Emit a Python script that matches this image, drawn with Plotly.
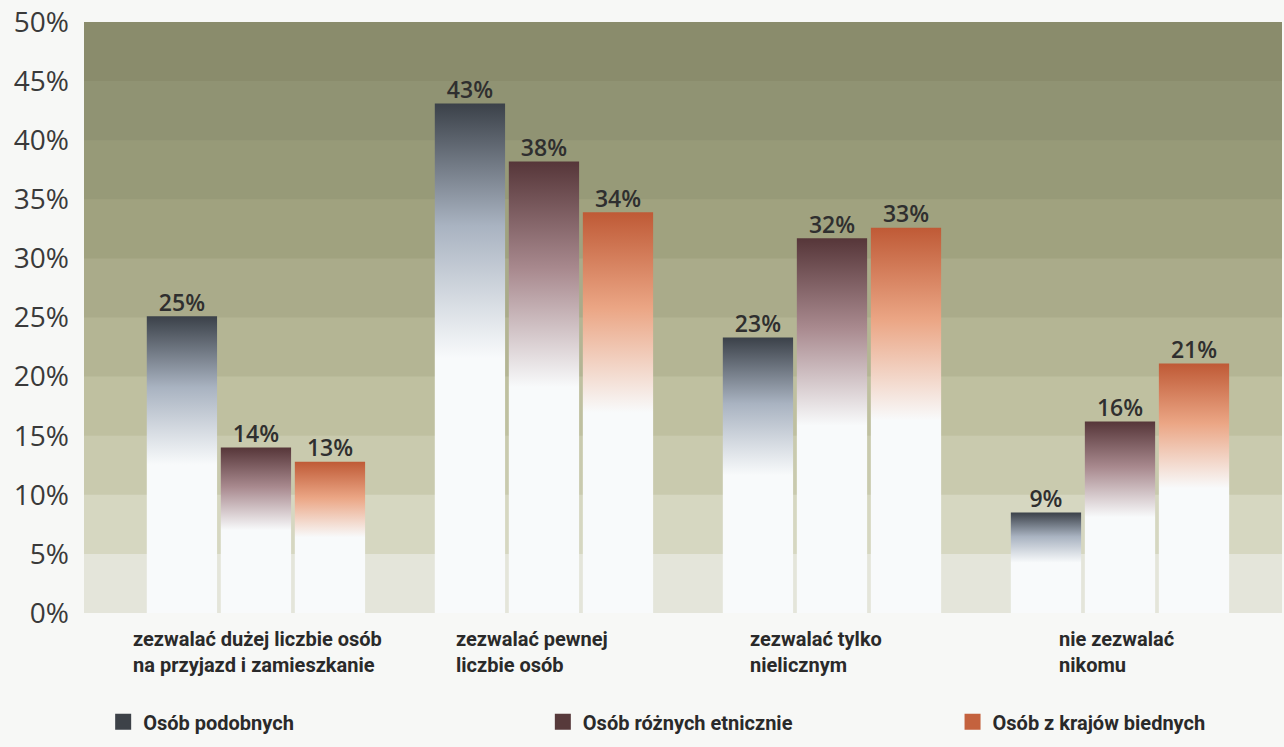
import plotly.graph_objects as go

categories = [
    "zezwalać dużej liczbie osób<br>na przyjazd i zamieszkanie",
    "zezwalać pewnej<br>liczbie osób",
    "zezwalać tylko<br>nielicznym",
    "nie zezwalać<br>nikomu",
]
series_names = ["Osób podobnych", "Osób różnych etnicznie", "Osób z krajów biednych"]
values_podobnych = [25.1, 43.1, 23.3, 8.5]
values_roznych = [14.0, 38.2, 31.7, 16.2]
values_biednych = [12.8, 33.9, 32.6, 21.1]
labels_podobnych = ["25%", "43%", "23%", "9%"]
labels_roznych = ["14%", "38%", "32%", "16%"]
labels_biednych = ["13%", "34%", "33%", "21%"]
y_ticks = [0, 5, 10, 15, 20, 25, 30, 35, 40, 45, 50]
y_tick_labels = [f"{t}%" for t in y_ticks]

all_values = [values_podobnych, values_roznych, values_biednych]
all_labels = [labels_podobnych, labels_roznych, labels_biednych]

# styles
top_colors = ["#3b4149", "#563639", "#bf5a36"]
mid_colors = ["#a9b3c1", "#a98a8f", "#eba685"]
legend_colors = ["#3d4248", "#573a3b", "#c4623e"]
white = "#f8fafb"
offsets = [-0.257, 0.0, 0.257]
half_w = 0.122
label_shift_px = [-125, -90, -84, -63]
band_colors = ["#e4e5da", "#d6d7c1", "#c9caae", "#bfc0a0", "#b4b594",
               "#aaab8a", "#a0a27f", "#979a78", "#909373", "#8a8c6c"]
narrow = "Liberation Sans Narrow, Roboto, sans-serif"

fig = go.Figure()

# background bands (each drawn to the top so no seams remain)
for k in range(len(y_ticks) - 1):
    fig.add_shape(type="rect", xref="paper", yref="y", x0=0, x1=1,
                  y0=y_ticks[k], y1=y_ticks[-1], layer="below",
                  line_width=0, fillcolor=band_colors[k])

for s, vals in enumerate(all_values):
    for i, v in enumerate(vals):
        cx = i + offsets[s]
        fig.add_trace(go.Scatter(
            x=[cx - half_w, cx - half_w, cx + half_w, cx + half_w, cx - half_w],
            y=[0, v, v, 0, 0],
            mode="lines", line=dict(width=0), fill="toself",
            fillgradient=dict(type="vertical", start=0, stop=v,
                              colorscale=[[0, white], [0.5, white],
                                          [0.76, mid_colors[s]], [1, top_colors[s]]]),
            showlegend=False, hoverinfo="skip"))
    fig.add_trace(go.Scatter(
        x=[i + offsets[s] for i in range(len(vals))], y=vals,
        mode="text", text=all_labels[s], textposition="top center",
        textfont=dict(family="Open Sans", size=23, color="#2f2f2f", weight=600),
        showlegend=False, hoverinfo="skip"))

legend_x = [0.016, 0.383, 0.725]
for s, name in enumerate(series_names):
    lg = "legend" if s == 0 else f"legend{s + 1}"
    fig.add_trace(go.Scatter(x=[None], y=[None], mode="markers", name=name,
                             marker=dict(symbol="square", size=18, color=legend_colors[s]),
                             legend=lg))

for i, cat in enumerate(categories):
    fig.add_annotation(x=i, y=0, xref="x", yref="y", text=cat, showarrow=False,
                       xanchor="left", yanchor="top", align="left",
                       xshift=label_shift_px[i], yshift=-12,
                       font=dict(family=narrow, size=20, color="#2a2a2a", weight="bold"))

legend_font = dict(family=narrow, size=20, color="#2a2a2a", weight="bold")
layout_legends = {}
for s in range(3):
    key = "legend" if s == 0 else f"legend{s + 1}"
    layout_legends[key] = dict(x=legend_x[s], y=-0.184, xanchor="left", yanchor="middle",
                               bgcolor="rgba(0,0,0,0)", font=legend_font, itemsizing="trace")

fig.update_layout(
    width=1284, height=747,
    margin=dict(l=84, r=2, t=22, b=134),
    paper_bgcolor="#f7f8f6", plot_bgcolor="#f7f8f6",
    xaxis=dict(range=[-0.597, 3.5625], showgrid=False, zeroline=False,
               showticklabels=False, fixedrange=True),
    yaxis=dict(range=[0, 50], tickvals=y_ticks, ticktext=y_tick_labels,
               showgrid=False, zeroline=False, ticks="", ticklabelstandoff=14,
               tickfont=dict(family="Open Sans", size=28, color="#3a3a3a"), fixedrange=True),
    **layout_legends,
)

fig.write_html("out.html", config={"displayModeBar": False},
               post_script="document.body.style.margin='0';document.body.style.background='#f7f8f6';")
